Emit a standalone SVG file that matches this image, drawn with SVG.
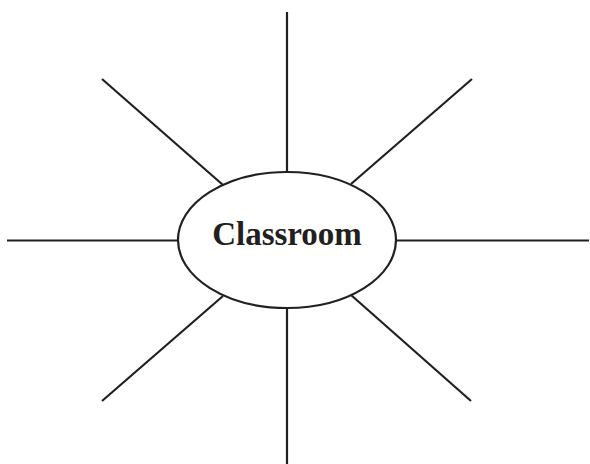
<svg xmlns="http://www.w3.org/2000/svg" width="590" height="464" viewBox="0 0 590 464">
<style>
.l{stroke:#231f20;stroke-width:2.2;fill:none}
.t{font-family:"Liberation Serif",serif;font-weight:bold;font-size:33px;fill:#231f20}
</style>
<rect width="590" height="464" fill="#fff"/>
<g id="connectors">
<line class="l" x1="287" y1="12" x2="287" y2="172"/>
<line class="l" x1="287" y1="308" x2="287" y2="464"/>
<line class="l" x1="7" y1="240.5" x2="178" y2="240.5"/>
<line class="l" x1="396" y1="240.5" x2="589" y2="240.5"/>
<line class="l" x1="102" y1="79" x2="223" y2="185"/>
<line class="l" x1="102" y1="401" x2="223" y2="296"/>
<line class="l" x1="472" y1="79" x2="351" y2="184"/>
<line class="l" x1="471" y1="401" x2="351" y2="295"/>
</g>
<g id="classroom">
<ellipse class="l" cx="287" cy="240" rx="109" ry="68" fill="#fff"/>
<text class="t" x="287" y="245" text-anchor="middle">Classroom</text>
</g>
</svg>
